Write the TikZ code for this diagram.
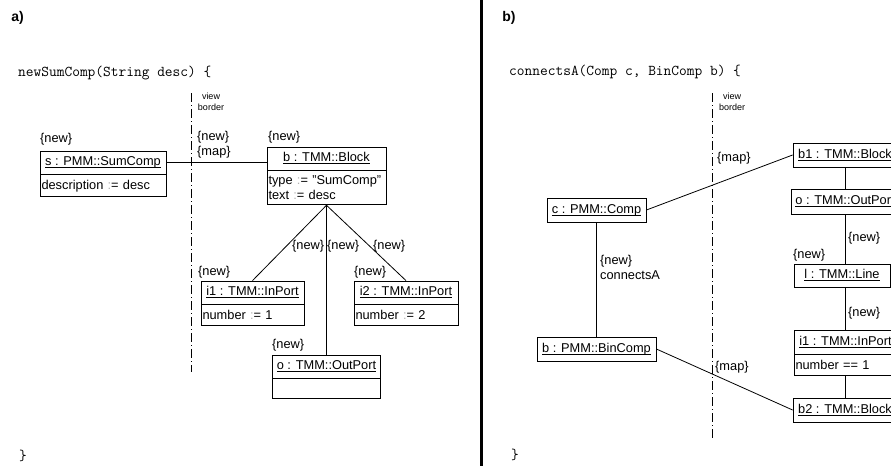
\documentclass[tikz,border=0pt]{standalone}
\usepackage{fontspec}
\setmainfont{Liberation Sans}

\newcommand{\objname}[1]{\setbox0=\hbox{#1}\rlap{\rule[-1.8pt]{\wd0}{0.7pt}}\box0}
\newcommand{\asg}{\textcolor{black!30}{:}=}

\tikzset{
  panel/.style={font=\bfseries\fontsize{14}{16}\selectfont},
  code/.style={anchor=west, inner sep=0pt, font=\ttfamily\fontsize{15}{17}\selectfont},
  note/.style={align=center, inner sep=0pt, font=\fontsize{9}{11}\selectfont},
  obj/.style={draw, line width=0.8pt, minimum height=23pt, inner sep=0pt,
    text height=9.3pt, text depth=2.5pt},
  attr/.style={draw, line width=0.8pt, anchor=north, text width=#1, align=left,
    inner xsep=1.5pt, inner ysep=5pt, minimum height=21pt},
  tag/.style={anchor=west, inner sep=0pt, align=left},
  link/.style={line width=0.8pt},
  border/.style={line width=0.8pt, dash pattern=on 9pt off 3pt on 1pt off 3pt},
}

\begin{document}
\begin{tikzpicture}[x=1pt, y=-1pt, every node/.style={font=\fontsize{12.8}{15}\selectfont}]
	\useasboundingbox (0,0) rectangle (891,466);

	% Panel divider
	\draw[line width=3pt] (481,0) -- (481,466);

	% a) newSumComp
	\node[panel] (pa) at (17.5,18) {a)};
	\node[code] (sigA) at (18,73) {newSumComp(String desc) \{};
	\node[code] (endA) at (19,456) {\}};

	% View border a
	\draw[border] (191,93) -- (191,372);
	\node[note] (vbA) at (211,101.5) {view\\border};

	% Objects a
	\node[obj, minimum width=126pt] (s) at (103,162.5) {\objname{s : PMM::SumComp}};
	\node[attr=123pt] (sattr) at (s.south) {description \asg{} desc};
	\node[obj, minimum width=119pt] (b) at (326.5,158.5) {\objname{b : TMM::Block}};
	\node[attr=116pt] (battr) at (b.south) {type \asg{} "SumComp"\\text \asg{} desc};
	\node[obj, minimum width=103pt] (i1) at (252.5,292.5) {\objname{i1 : TMM::InPort}};
	\node[attr=100pt] (i1attr) at (i1.south) {number \asg{} 1};
	\node[obj, minimum width=104pt] (i2) at (406,292.5) {\objname{i2 : TMM::InPort}};
	\node[attr=101pt] (i2attr) at (i2.south) {number \asg{} 2};
	\node[obj, minimum width=108pt] (o) at (326.5,366.5) {\objname{o : TMM::OutPort}};
	\node[attr=105pt, minimum height=20pt] (oattr) at (o.south) {};

	% Tags a
	\node[tag] (snew) at (40,139) {\{new\}};
	\node[tag] (bnew) at (268,137) {\{new\}};
	\node[tag] (i1new) at (198,272) {\{new\}};
	\node[tag] (i2new) at (354,272) {\{new\}};
	\node[tag] (onew) at (272,345) {\{new\}};

	% Links a
	\draw[link] (s.east) -- (s.east -| b.west);
	\draw[link] (battr.south) -- (i1.north);
	\draw[link] (battr.south) -- (o.north);
	\draw[link] (battr.south) -- (i2.north);
	\node[tag] (lsb) at (197,144.5) {\{new\}\\\{map\}};
	\node[tag] (lbi1) at (292,246) {\{new\}};
	\node[tag] (lbo) at (327,246) {\{new\}};
	\node[tag] (lbi2) at (373,246) {\{new\}};

	% b) connectsA
	\node[panel] (pb) at (509,18) {b)};
	\node[code] (sigB) at (509,72) {connectsA(Comp c, BinComp b) \{};
	\node[code] (endB) at (511,455) {\}};

	% View border b
	\draw[border] (712,93) -- (712,440);
	\node[note] (vbB) at (732,101.5) {view\\border};

	% Objects b
	\node[obj, minimum width=99pt, minimum height=24pt] (c) at (596.5,210) {\objname{c : PMM::Comp}};
	\node[obj, minimum width=119pt, minimum height=24pt] (bin) at (596.5,349) {\objname{b : PMM::BinComp}};
	\node[obj, minimum width=104pt, minimum height=24pt] (b1) at (845,155) {\objname{b1 : TMM::Block}};
	\node[obj, minimum width=108pt, minimum height=25pt] (o2) at (845,201.5) {\objname{o : TMM::OutPort}};
	\node[obj, minimum width=96pt] (l) at (842,275.5) {\objname{l : TMM::Line}};
	\node[obj, minimum width=103pt, minimum height=24pt] (i1b) at (845.5,342) {\objname{i1 : TMM::InPort}};
	\node[attr=100pt] (i1battr) at (i1b.south) {number == 1};
	\node[obj, minimum width=104pt, minimum height=24pt] (b2) at (845,410) {\objname{b2 : TMM::Block}};

	% Tags b
	\node[tag] (lnew) at (793,255) {\{new\}};

	% Links b
	\draw[link] (c) -- (bin);
	\draw[link] (c.east) -- (b1.west);
	\draw[link] (bin.east) -- (b2.west);
	\draw[link] (b1.south) -- (o2.north);
	\draw[link] (o2.south) -- (o2.south |- l.north);
	\draw[link] (o2.south |- l.south) -- (o2.south |- i1b.north);
	\draw[link] (o2.south |- i1battr.south) -- (o2.south |- b2.north);
	\node[tag] (lcb) at (600,267) {\{new\}\\connectsA};
	\node[tag] (lmap1) at (717,158) {\{map\}};
	\node[tag] (lmap2) at (715,367) {\{map\}};
	\node[tag] (lol) at (848,238) {\{new\}};
	\node[tag] (lli) at (848,313) {\{new\}};

\end{tikzpicture}
\end{document}
